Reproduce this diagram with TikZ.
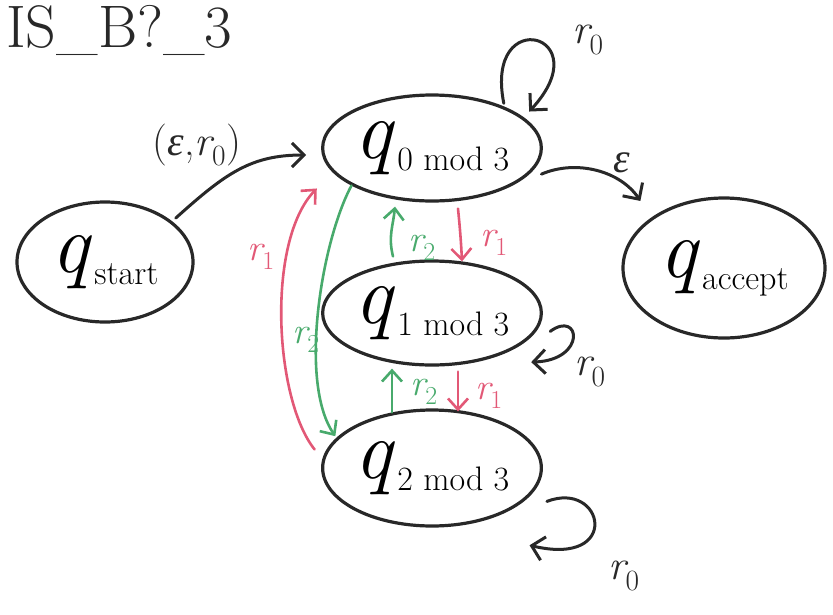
\documentclass[tikz,border=0pt]{standalone}
\usepackage{fontspec}
\newfontfamily\epsfont{Liberation Serif}
\usetikzlibrary{shapes.geometric,arrows.meta}
\definecolor{penred}{RGB}{226,88,118}
\definecolor{pengreen}{RGB}{72,170,108}
\definecolor{penblack}{RGB}{40,40,40}
\newcommand\qname[1]{{\fontsize{84}{84}\selectfont\itshape q}\hspace{5pt}\raisebox{-12pt}{\fontsize{34}{34}\selectfont #1}}
\newcommand\rsub[1]{{\itshape r}\textsubscript{#1}}
\newcommand\eps{{\epsfont\itshape ε}}
\newcommand\lblsize{\fontsize{42}{42}\selectfont}
\newcommand\smlsize{\fontsize{37}{37}\selectfont}
\begin{document}
\begin{tikzpicture}[x=1pt,y=-1pt,
  state/.style={draw=penblack,line width=3.2pt,ellipse,inner sep=0pt},
  arr/.style={draw=penblack,line width=3pt,line cap=round,-{Straight Barb[length=12pt,width=24pt]}},
  redarr/.style={draw=penred,line width=2.6pt,line cap=round,-{Straight Barb[length=11pt,width=20pt]}},
  greenarr/.style={draw=pengreen,line width=2.6pt,line cap=round,-{Straight Barb[length=11pt,width=20pt]}},
  lbl/.style={text=penblack,inner sep=0pt,font=\lblsize},
  redlbl/.style={text=penred,inner sep=0pt,font=\smlsize},
  greenlbl/.style={text=pengreen,inner sep=0pt,font=\smlsize}]
\useasboundingbox (0,0) rectangle (833,614);

% title
\node[anchor=base west,inner sep=0pt,text=penblack,font=\fontsize{60}{60}\selectfont] (title) at (6,47) {IS\_B?\_3};

% states
\node[state,minimum width=176pt,minimum height=120pt] (start) at (105,262) {\qname{start}};
\node[state,minimum width=212pt,minimum height=106pt] (q0) at (432,148) {\qname{0 mod 3}};
\node[state,minimum width=170pt,minimum height=104pt] (q1) at (432,313) {\qname{1 mod 3}};
\node[state,minimum width=210pt,minimum height=116pt] (q2) at (432,468) {\qname{2 mod 3}};
\node[state,minimum width=202pt,minimum height=140pt] (accept) at (724,268) {\qname{accept}};

% start -> q0
\draw[arr] ([xshift=8pt]start.35) .. controls +(50,-45) and +(-55,0) .. ([xshift=-15pt,yshift=-7pt]q0.west);
\node[lbl] (lstart) at (197,145) {(\eps,\rsub{0})};

% q0 -> accept
\draw[arr] ([xshift=12pt]q0.-15) .. controls +(35,-15) and +(-20,-30) .. ([xshift=-18pt,yshift=12pt]accept.140);
\node[lbl] (leps) at (622,163) {\eps};

% self loops
\draw[arr] ([xshift=8pt]q0.35) .. controls +(-20,-100) and +(72,-78) .. ([xshift=8pt,yshift=4pt]q0.20);
\node[lbl] (l00) at (588,40) {\rsub{0}};
\draw[arr] ([xshift=14pt]q1.-10) .. controls +(30,-22) and +(56,-2) .. ([xshift=28pt,yshift=-8pt]q1.-30);
\node[lbl] (l11) at (590,372) {\rsub{0}};
\draw[arr] ([xshift=23pt]q2.-20) .. controls +(57,-22) and +(93,22) .. ([xshift=30pt,yshift=-30pt]q2.-35);
\node[lbl] (l22) at (624,576) {\rsub{0}};

% between q0 and q1
\draw[redarr] ([xshift=26pt,yshift=-6pt]q0.south) .. controls +(2,20) and +(-1,-20) .. ([xshift=30pt,yshift=-2pt]q1.north);
\node[redlbl] (lr01) at (494,243) {\rsub{1}};
\draw[greenarr] ([xshift=-39pt,yshift=3pt]q1.north) .. controls +(-5,-20) and +(-2,20) .. ([xshift=-37pt,yshift=-4pt]q0.south);
\node[greenlbl] (lg10) at (422,248) {\rsub{2}};

% between q1 and q2
\draw[redarr] ([xshift=26pt,yshift=-5pt]q1.south) -- ([xshift=26pt,yshift=-3pt]q2.north);
\node[redlbl] (lr12) at (489,396) {\rsub{1}};
\draw[greenarr] ([xshift=-40pt,yshift=-4pt]q2.north) -- ([xshift=-40pt,yshift=-2pt]q1.south);
\node[greenlbl] (lg21) at (424,392) {\rsub{2}};

% long arrows
\draw[greenarr] (q0.205) .. controls +(-30,56) and +(-37,-54) .. ([xshift=-8pt,yshift=-4pt]q2.158);
\node[greenlbl] (lg02) at (306,340) {\rsub{2}};
\draw[redarr] ([xshift=-12pt]q2.170) .. controls +(-40,-50) and +(-51,53) .. ([xshift=-26pt,yshift=-8pt]q0.200);
\node[redlbl] (lr20) at (261,257) {\rsub{1}};
\end{tikzpicture}
\end{document}
